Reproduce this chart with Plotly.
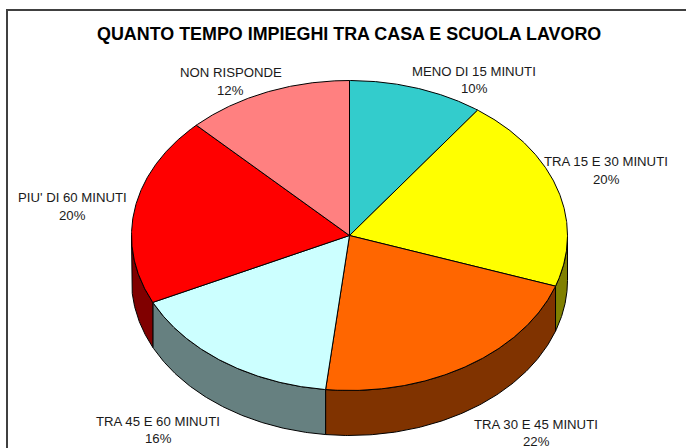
import numpy as np
import plotly.graph_objects as go

title = "QUANTO TEMPO IMPIEGHI TRA CASA E SCUOLA LAVORO"
categories = ["MENO DI 15 MINUTI", "TRA 15 E 30 MINUTI", "TRA 30 E 45 MINUTI",
              "TRA 45 E 60 MINUTI", "PIU' DI 60 MINUTI", "NON RISPONDE"]
values = [10.0, 20.3, 21.45, 16.15, 19.7, 12.4]
percent_labels = ["10%", "20%", "22%", "16%", "20%", "12%"]

top_colors = ["#33CCCC", "#FFFF00", "#FF6600", "#CCFFFF", "#FF0000", "#FF8080"]
side_colors = ["#1A6666", "#808000", "#803300", "#668080", "#800000", "#804040"]
label_pos = [(474, 71, 88.5), (606, 161, 179), (536, 424, 441.5),
             (158, 421, 438), (72, 197.5, 215.5), (230.5, 72, 90)]

W, H = 686, 448
CX, CY, RX, RY, DEPTH = 349.5, 235.5, 218, 155, 45


def ellipse(t):
    return CX + RX * np.sin(t), CY - RY * np.cos(t)


fig = go.Figure()
edges = np.concatenate([[0], np.cumsum(values)]) / sum(values) * 2 * np.pi

# side walls (only the front half of the disc is visible)
for i, col in enumerate(side_colors):
    a, b = max(edges[i], np.pi / 2), min(edges[i + 1], 3 * np.pi / 2)
    if a >= b:
        continue
    t = np.linspace(a, b, 120)
    x, y = ellipse(t)
    fig.add_trace(go.Scatter(
        x=np.concatenate([x, x[::-1], x[:1]]),
        y=np.concatenate([y, y[::-1] + DEPTH, y[:1]]),
        mode="lines", fill="toself", fillcolor=col,
        line=dict(color="#000000", width=1), hoverinfo="skip", showlegend=False))

# top faces
for i, col in enumerate(top_colors):
    t = np.linspace(edges[i], edges[i + 1], 200)
    x, y = ellipse(t)
    fig.add_trace(go.Scatter(
        x=np.concatenate([[CX], x, [CX]]),
        y=np.concatenate([[CY], y, [CY]]),
        mode="lines", fill="toself", fillcolor=col,
        line=dict(color="#000000", width=1), name=categories[i],
        hoverinfo="name", showlegend=False))

annotations = [dict(x=348.5, y=34, text="<b>%s</b>" % title, showarrow=False,
                    font=dict(family="Liberation Sans", size=17.9, color="#000000"),
                    xanchor="center", yanchor="middle")]
for cat, pct, (lx, y1, y2) in zip(categories, percent_labels, label_pos):
    for txt, ly in ((cat, y1), (pct, y2)):
        annotations.append(dict(x=lx, y=ly, text=txt, showarrow=False,
                                font=dict(family="Liberation Sans", size=13.2, color="#1a1a1a"),
                                xanchor="center", yanchor="middle"))

fig.update_layout(
    width=W, height=H, margin=dict(l=0, r=0, t=0, b=0),
    paper_bgcolor="#FFFFFF", plot_bgcolor="#FFFFFF",
    xaxis=dict(range=[0, W], visible=False, fixedrange=True),
    yaxis=dict(range=[H, 0], visible=False, fixedrange=True),
    annotations=annotations,
    shapes=[dict(type="rect", xref="x", yref="y", x0=7, y0=10, x1=W + 20, y1=H + 20,
                 line=dict(color="#404040", width=2), layer="below")],
)
fig.write_html("out.html", config=dict(displayModeBar=False),
               post_script="document.body.style.margin='0';document.body.style.overflow='hidden';")
